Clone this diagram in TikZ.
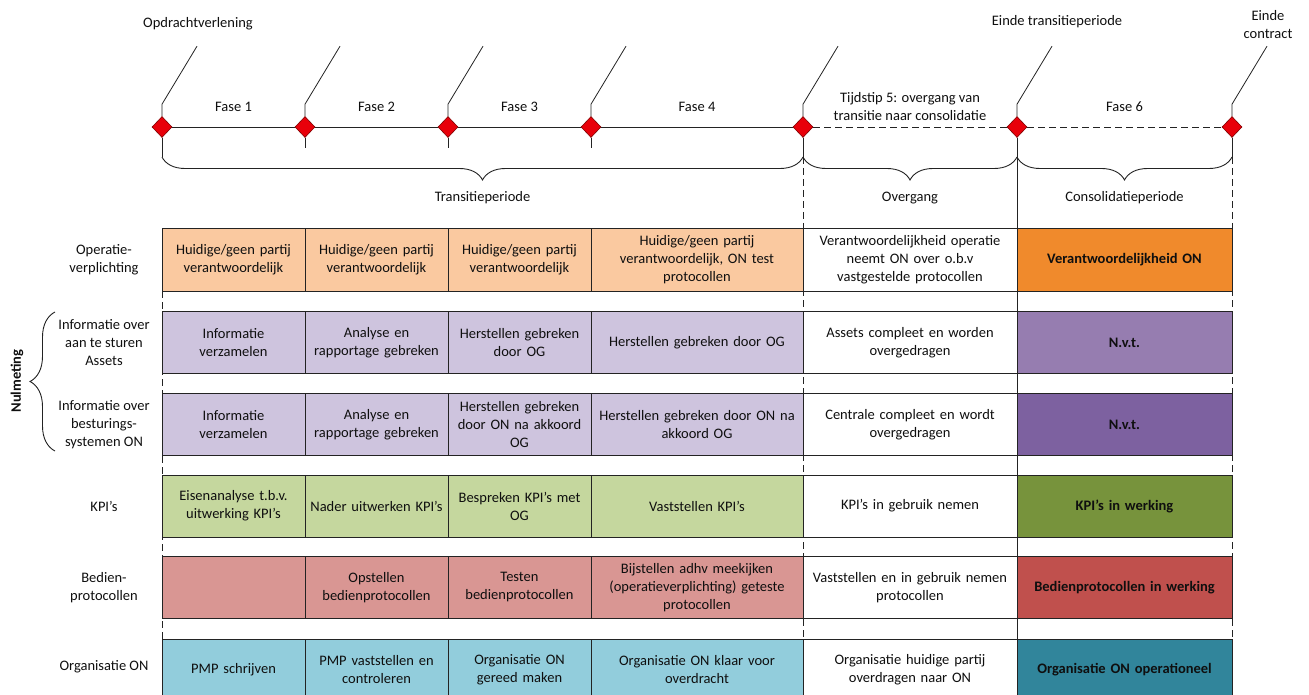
\documentclass[tikz,border=0pt]{standalone}
\usepackage{fontspec}
\setmainfont{Carlito}
\usetikzlibrary{decorations.pathreplacing,shapes.geometric}
\definecolor{linec}{RGB}{35,35,35}
\definecolor{textc}{RGB}{15,15,15}
\definecolor{peach}{RGB}{250,201,160}
\definecolor{orangeON}{RGB}{240,138,44}
\definecolor{lav}{RGB}{206,196,222}
\definecolor{purpA}{RGB}{150,125,176}
\definecolor{purpB}{RGB}{125,97,160}
\definecolor{lgreen}{RGB}{197,215,158}
\definecolor{dgreen}{RGB}{119,147,60}
\definecolor{salmon}{RGB}{217,150,147}
\definecolor{redON}{RGB}{192,80,77}
\definecolor{lblue}{RGB}{146,205,220}
\definecolor{teal}{RGB}{49,133,155}
\definecolor{msred}{RGB}{232,0,10}
\newcommand\cellfont{\fontsize{14.5}{18}\selectfont}
\begin{document}
\begin{tikzpicture}[x=1pt,y=-1pt,
  cell/.style={draw=linec, line width=1pt, inner sep=0pt, outer sep=0pt, align=center, font=\cellfont, text=textc, minimum height=62pt},
  wa/.style={minimum width=143pt, text width=137pt},
  wb/.style={minimum width=212pt, text width=206pt},
  wc/.style={minimum width=214pt, text width=208pt},
  wd/.style={minimum width=215pt, text width=209pt, font=\cellfont\bfseries},
  lbl/.style={inner sep=0pt, align=center, font=\cellfont, text=textc},
  ms/.style={diamond, draw=red!50!black, line width=0.6pt, fill=msred, minimum width=20pt, minimum height=21pt, inner sep=0pt},
  lead/.style={draw=linec, line width=0.8pt},
  brc/.style={draw=linec, line width=0.9pt, decorate, decoration={brace, mirror, amplitude=23pt}},
  dsh/.style={draw=linec, line width=0.8pt, dash pattern=on 7pt off 4pt}
]
\useasboundingbox (0,0) rectangle (1309,695);

% vertical guide lines (behind cells)
\coordinate (b1) at (162,157);
\coordinate (b5) at (803,157);
\coordinate (b6) at (1017,157);
\coordinate (b7) at (1232,157);
\coordinate (g1) at (162,291);
\coordinate (e1) at (162,700);
\coordinate (e5) at (803,700);
\coordinate (e6) at (1017,700);
\coordinate (e7) at (1232,700);
\draw[dsh] (g1) -- (e1);
\draw[dsh] (b5) -- (e5);
\draw[dsh] (b7) -- (e7);
\draw[lead] (b6) -- (e6);

% milestones
\node[ms] (m1) at (162,127) {};
\node[ms] (m2) at (305,127) {};
\node[ms] (m3) at (448,127) {};
\node[ms] (m4) at (591,127) {};
\node[ms] (m5) at (803,127) {};
\node[ms] (m6) at (1017,127) {};
\node[ms] (m7) at (1232,127) {};

\draw[lead] (m1.east) -- (m2.west);
\draw[lead] (m2.east) -- (m3.west);
\draw[lead] (m3.east) -- (m4.west);
\draw[lead] (m4.east) -- (m5.west);
\draw[lead, dash pattern=on 7pt off 4pt] (m5.east) -- (m6.west);
\draw[lead, dash pattern=on 7pt off 4pt] (m6.east) -- (m7.west);

\foreach \m in {m1,m2,m3,m4,m5,m6,m7}{
  \draw[lead] (\m.north) -- ++(0,-12) -- ++(35,-58);
}
\foreach \m in {m2,m3,m4}{
  \draw[lead] (\m.south) -- ++(0,10);
}
\draw[lead] (m1.south) -- (b1);
\draw[lead] (m5.south) -- (b5);
\draw[lead] (m6.south) -- (b6);
\draw[lead] (m7.south) -- (b7);

\draw[brc] (b1) -- (b5);
\draw[brc] (b5) -- (b6);
\draw[brc] (b6) -- (b7);

% top labels
\node[lbl] (t1) at (198,24) {Opdrachtverlening};
\node[lbl] (t6) at (1057,22) {Einde transitieperiode};
\node[lbl] (t7) at (1268,25) {Einde\\contract};

\node[lbl] (f1) at (233.5,107) {Fase 1};
\node[lbl] (f2) at (376.5,107) {Fase 2};
\node[lbl] (f3) at (519.5,107) {Fase 3};
\node[lbl] (f4) at (697,107) {Fase 4};
\node[lbl] (f5) at (910,107) {Tijdstip 5: overgang van\\transitie naar consolidatie};
\node[lbl] (f6) at (1124.5,107) {Fase 6};

\node[lbl] (p1) at (482.5,198) {Transitieperiode};
\node[lbl] (p2) at (910,198) {Overgang};
\node[lbl] (p3) at (1124.5,198) {Consolidatieperiode};

% row labels
\node[lbl] (r1) at (104,260) {Operatie-\\verplichting};
\node[lbl] (r2) at (104,342.5) {Informatie over\\aan te sturen\\Assets};
\node[lbl] (r3) at (104,424.5) {Informatie over\\besturings-\\systemen ON};
\node[lbl] (r4) at (104,506) {KPI’s};
\node[lbl] (r5) at (104,587.5) {Bedien-\\protocollen};
\node[lbl] (r6) at (104,667) {Organisatie ON};

\coordinate (n1) at (55,451);
\coordinate (n2) at (55,312);
\draw[draw=linec, line width=0.9pt, decorate, decoration={brace, amplitude=25pt}] (n1) -- (n2);
\node[lbl, rotate=90, font=\cellfont\bfseries] (nul) at (17,381) {Nulmeting};

% row 1
\node[cell, wa, fill=peach] (c11) at (233.5,260) {Huidige/geen partij\\verantwoordelijk};
\node[cell, wa, fill=peach] (c12) at (376.5,260) {Huidige/geen partij\\verantwoordelijk};
\node[cell, wa, fill=peach] (c13) at (519.5,260) {Huidige/geen partij\\verantwoordelijk};
\node[cell, wb, fill=peach] (c14) at (697,260) {Huidige/geen partij\\verantwoordelijk, ON test\\protocollen};
\node[cell, wc, fill=white] (c15) at (910,260) {Verantwoordelijkheid operatie\\neemt ON over o.b.v\\vastgestelde protocollen};
\node[cell, wd, fill=orangeON] (c16) at (1124.5,260) {Verantwoordelijkheid ON};

% row 2
\node[cell, wa, fill=lav] (c21) at (233.5,342.5) {Informatie\\verzamelen};
\node[cell, wa, fill=lav] (c22) at (376.5,342.5) {Analyse en\\rapportage gebreken};
\node[cell, wa, fill=lav] (c23) at (519.5,342.5) {Herstellen gebreken\\door OG};
\node[cell, wb, fill=lav] (c24) at (697,342.5) {Herstellen gebreken door OG};
\node[cell, wc, fill=white] (c25) at (910,342.5) {Assets compleet en worden\\overgedragen};
\node[cell, wd, fill=purpA] (c26) at (1124.5,342.5) {N.v.t.};

% row 3
\node[cell, wa, fill=lav] (c31) at (233.5,424.5) {Informatie\\verzamelen};
\node[cell, wa, fill=lav] (c32) at (376.5,424.5) {Analyse en\\rapportage gebreken};
\node[cell, wa, fill=lav] (c33) at (519.5,424.5) {Herstellen gebreken\\door ON na akkoord\\OG};
\node[cell, wb, fill=lav] (c34) at (697,424.5) {Herstellen gebreken door ON na\\akkoord OG};
\node[cell, wc, fill=white] (c35) at (910,424.5) {Centrale compleet en wordt\\overgedragen};
\node[cell, wd, fill=purpB] (c36) at (1124.5,424.5) {N.v.t.};

% row 4
\node[cell, wa, fill=lgreen] (c41) at (233.5,506) {Eisenanalyse t.b.v.\\uitwerking KPI’s};
\node[cell, wa, fill=lgreen] (c42) at (376.5,506) {Nader uitwerken KPI’s};
\node[cell, wa, fill=lgreen] (c43) at (519.5,506) {Bespreken KPI’s met\\OG};
\node[cell, wb, fill=lgreen] (c44) at (697,506) {Vaststellen KPI’s};
\node[cell, wc, fill=white] (c45) at (910,506) {KPI’s in gebruik nemen};
\node[cell, wd, fill=dgreen] (c46) at (1124.5,506) {KPI’s in werking};

% row 5
\node[cell, wa, fill=salmon] (c51) at (233.5,587.5) {};
\node[cell, wa, fill=salmon] (c52) at (376.5,587.5) {Opstellen\\bedienprotocollen};
\node[cell, wa, fill=salmon] (c53) at (519.5,587.5) {Testen\\bedienprotocollen};
\node[cell, wb, fill=salmon] (c54) at (697,587.5) {Bijstellen adhv meekijken\\(operatieverplichting) geteste\\protocollen};
\node[cell, wc, fill=white] (c55) at (910,587.5) {Vaststellen en in gebruik nemen\\protocollen};
\node[cell, wd, fill=redON] (c56) at (1124.5,587.5) {Bedienprotocollen in werking};

% row 6
\node[cell, wa, fill=lblue] (c61) at (233.5,670) {PMP schrijven};
\node[cell, wa, fill=lblue] (c62) at (376.5,670) {PMP vaststellen en\\controleren};
\node[cell, wa, fill=lblue] (c63) at (519.5,670) {Organisatie ON\\gereed maken};
\node[cell, wb, fill=lblue] (c64) at (697,670) {Organisatie ON klaar voor\\overdracht};
\node[cell, wc, fill=white] (c65) at (910,670) {Organisatie huidige partij\\overdragen naar ON};
\node[cell, wd, fill=teal] (c66) at (1124.5,670) {Organisatie ON operationeel};
\end{tikzpicture}
\end{document}
